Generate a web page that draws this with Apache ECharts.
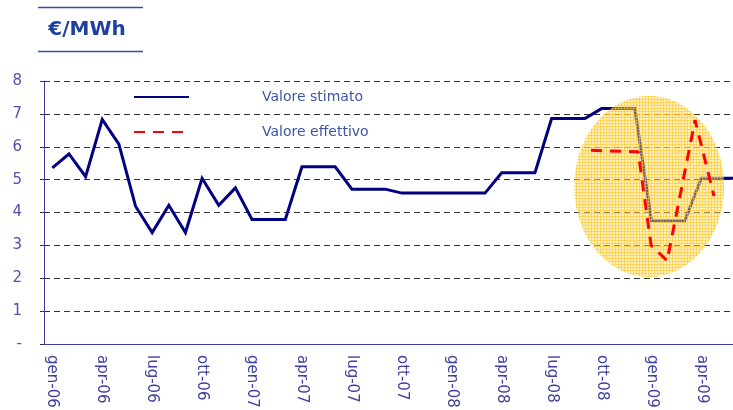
<!DOCTYPE html>
<html>
<head>
<meta charset="utf-8">
<script src="https://cdn.jsdelivr.net/npm/echarts@6/dist/echarts.min.js"></script>
<style>
html,body{margin:0;padding:0;background:#fff;}
#c{width:733px;height:410px;}
</style>
</head>
<body>
<div id="c"></div>
<script>
// ---- data ----
const months = ['gen-06','feb-06','mar-06','apr-06','mag-06','giu-06','lug-06','ago-06','set-06','ott-06','nov-06','dic-06',
  'gen-07','feb-07','mar-07','apr-07','mag-07','giu-07','lug-07','ago-07','set-07','ott-07','nov-07','dic-07',
  'gen-08','feb-08','mar-08','apr-08','mag-08','giu-08','lug-08','ago-08','set-08','ott-08','nov-08','dic-08',
  'gen-09','feb-09','mar-09','apr-09','mag-09','giu-09'];
const valoreStimato = [5.36,5.78,5.09,6.83,6.08,4.19,3.39,4.22,3.39,5.04,4.22,4.75,
  3.79,3.79,3.79,5.39,5.39,5.39,4.71,4.71,4.71,4.59,4.59,4.59,
  4.59,4.59,4.59,5.21,5.21,5.21,6.86,6.86,6.86,7.16,7.16,7.16,
  3.75,3.75,3.75,5.04,5.04,5.04];
// actual value: position in months from gen-06 (fractional), value
const effettivoMese = [32.87,35.70,36.48,37.44,39.12,40.26];
const valoreEffettivo = [5.89,5.85,3.00,2.53,6.81,4.50];
const yTicks = ['-','1','2','3','4','5','6','7','8'];
const unitLabel = '€/MWh';
const seriesNames = ['Valore stimato','Valore effettivo'];

const chart = echarts.init(document.getElementById('c'), null, {renderer:'canvas'});

// hatched yellow pattern for highlight ellipse
const pc = document.createElement('canvas');
pc.width = 3; pc.height = 3;
const pctx = pc.getContext('2d');
pctx.fillStyle = 'rgba(255,222,110,0.45)';
pctx.fillRect(0,0,3,3);
pctx.clearRect(0,0,3,1);
pctx.clearRect(0,0,1,3);
pctx.fillStyle = 'rgba(255,200,40,0.72)';
pctx.fillRect(0,0,3,1);
pctx.fillRect(0,0,1,3);

const titleEls = [
  {type: 'line', shape: {x1: 38, y1: 7.5, x2: 143, y2: 7.5}, style: {stroke: '#3050a8', lineWidth: 1.5}},
  {type: 'line', shape: {x1: 38, y1: 51.5, x2: 143, y2: 51.5}, style: {stroke: '#3050a8', lineWidth: 1.5}},
  {type: 'text', x: 87, y: 30, style: {text: unitLabel, fill: '#2040a0', font: 'bold 20px "DejaVu Sans"', align: 'center', verticalAlign: 'middle'}}
];

const option = {
  backgroundColor: '#ffffff',
  animation: false,
  grid: {left: 44, top: 81, height: 263, width: 699, containLabel: false, outerBoundsMode: 'none'},
  legend: {
    orient: 'vertical', left: 133, top: 90, padding: 0,
    itemWidth: 55, itemHeight: 14, itemGap: 21,
    data: seriesNames,
    itemStyle: {opacity: 0},
    formatter: function(n){ return '{t|' + n + '}'; },
    textStyle: {
      rich: {t: {fontFamily: 'DejaVu Sans', fontSize: 14, color: '#3a56a8', padding: [0,0,0,68]}}
    }
  },
  xAxis: [{
    type: 'category', data: months, boundaryGap: true,
    axisLine: {lineStyle: {color: '#3a3aa8', width: 1}},
    axisTick: {interval: 2, length: 5, lineStyle: {color: '#3a3aa8'}},
    axisLabel: {interval: 2, rotate: -90, margin: 11, color: '#4040a0', fontFamily: 'DejaVu Sans', fontSize: 15},
    splitLine: {show: false}
  },{
    type: 'value', min: 0, max: months.length, show: false
  }],
  yAxis: {
    type: 'value', min: 0, max: 8, interval: 1,
    axisLine: {show: true, lineStyle: {color: '#3a3aa8', width: 1}},
    axisTick: {show: true, length: 4, lineStyle: {color: '#333'}},
    axisLabel: {color: '#5050b0', fontFamily: 'DejaVu Sans', fontSize: 15, margin: 22,
      formatter: function(v){ return yTicks[Math.round(v)]; }},
    splitLine: {show: true, lineStyle: {color: '#333', type: [6,4], width: 1}}
  },
  series: [{
    name: seriesNames[0], type: 'line', data: valoreStimato, xAxisIndex: 0,
    symbol: 'none', z: 2,
    lineStyle: {color: '#000080', width: 3, join: 'miter'},
    itemStyle: {color: '#000080'}
  },{
    name: seriesNames[1], type: 'line', xAxisIndex: 1,
    data: effettivoMese.map((m,i)=>[m, valoreEffettivo[i]]),
    symbol: 'none', z: 5,
    lineStyle: {color: '#ff0000', width: 3, type: [11,8]},
    itemStyle: {color: '#ff0000'}
  }],
  graphic: {elements: titleEls}
};
chart.setOption(option);

// highlight ellipse placed in data coordinates
const c = chart.convertToPixel({xAxisIndex: 1, yAxisIndex: 0}, [36.36, 4.79]);
const e = chart.convertToPixel({xAxisIndex: 1, yAxisIndex: 0}, [36.36 + 4.5, 4.79 + 2.75]);
chart.setOption({graphic: {elements: titleEls.concat([
  {type: 'ellipse', z: 3, shape: {cx: c[0], cy: c[1], rx: e[0]-c[0], ry: c[1]-e[1]},
   style: {fill: {image: pc, repeat: 'repeat'}, stroke: null}}
])}});
</script>
</body>
</html>
